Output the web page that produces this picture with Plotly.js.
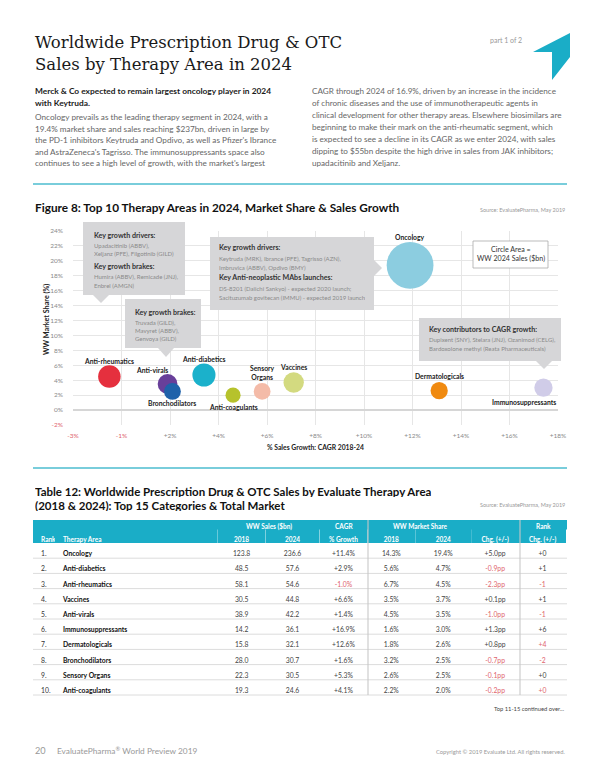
<!DOCTYPE html>
<html><head><meta charset="utf-8">
<script src="https://cdn.plot.ly/plotly-3.0.1.min.js"></script>
<style>html,body{margin:0;padding:0;background:#fff;}#chart{width:600px;height:776px;}</style>
</head><body><div id="chart"></div>
<script>
// ---------------- DATA ----------------
const areas = ['Oncology','Anti-diabetics','Anti-rheumatics','Vaccines','Anti-virals','Immunosuppressants','Dermatologicals','Bronchodilators','Sensory Organs','Anti-coagulants'];
const sales2018 = [123.8,48.5,58.1,30.5,38.9,14.2,15.8,28.0,22.3,19.3];
const sales2024 = [236.6,57.6,54.6,44.8,42.2,36.1,32.1,30.7,30.5,24.6];
const cagr = [11.4,2.9,-1.0,6.6,1.4,16.9,12.6,1.6,5.3,4.1];
const share2018 = [14.3,5.6,6.7,3.5,4.5,1.6,1.8,3.2,2.6,2.2];
const share2024 = [19.4,4.7,4.5,3.7,3.5,3.0,2.6,2.5,2.5,2.0];
const shareChg = [5.0,-0.9,-2.3,0.1,-1.0,1.3,0.8,-0.7,-0.1,-0.2];
const rankChg = [0,1,-1,1,-1,6,4,-2,0,0];
const xTickText = ['-3%','-1%','+2%','+4%','+6%','+8%','+10%','+12%','+14%','+16%','+18%'];
const yTickVals = [24,22,20,18,16,14,12,10,8,6,4,2,0,-2];

// ---------------- STYLE ----------------
const bubbleColors = ['#8ccde0','#1bb1cb','#e5303e','#d3da80','#683f9a','#d0cce8','#f08a10','#1f62aa','#f4bba8','#b6c22c'];
const labelShift = [[0,28],[0,16],[0,16],[0,15],[-16,14],[-19,-14],[0,15],[0,-12],[0,19],[0,-12]];
const rankChgRed = [false,false,true,false,true,false,true,true,false,true];
const TEAL = '#1aadc7', RED = '#e0646e';
const SANS = 'Lato, "Open Sans", sans-serif';
const W = 600, H = 776;
const X = px => px / W, Y = py => 1 - py / H;

const sgn = (v, d) => (v < 0 ? '-' : '+') + Math.abs(v).toFixed(d);

// ---------------- BUBBLE CHART ----------------
const bubble = {
  type: 'scatter', mode: 'markers', x: cagr, y: share2024, xaxis: 'x', yaxis: 'y',
  text: areas, hoverinfo: 'text',
  marker: { size: sales2024, sizemode: 'area', sizeref: 0.216, color: bubbleColors, opacity: 1, line: { width: 0 } },
  cliponaxis: false, showlegend: false
};

// ---------------- TABLE ----------------
const fmt1 = a => a.map(v => v.toFixed(1));
const rankStr = areas.map((_, i) => (i + 1) + '.');
const cellVals = [
  rankStr, areas, fmt1(sales2018), fmt1(sales2024),
  cagr.map(v => sgn(v, 1) + '%'), share2018.map(v => v.toFixed(1) + '%'), share2024.map(v => v.toFixed(1) + '%'),
  shareChg.map(v => sgn(v, 1) + 'pp'), rankChg.map(v => sgn(v, 0))
];
const colColors = [
  areas.map(() => '#333'), areas.map(() => '#111'), areas.map(() => '#444'), areas.map(() => '#444'),
  cagr.map(v => v < 0 ? RED : '#444'), areas.map(() => '#444'), areas.map(() => '#444'),
  shareChg.map(v => v < 0 ? RED : '#444'), rankChgRed.map(r => r ? RED : '#444')
];
const colWidths = [22,163,48,54,48,48,56,48,47];
const tblLeft = 33, tblRight = 567, tblTop = 520, headerH = 23, rowH = 15.2;
const headCellH = 14; // lower header line sits in the bottom part of the teal band
const tblBottom = tblTop + headerH + rowH * areas.length;
const table = {
  type: 'table',
  domain: { x: [X(tblLeft), X(tblRight)], y: [Y(tblBottom + 2), Y(tblTop + headerH - headCellH)] },
  columnwidth: colWidths,
  header: {
    values: ['Rank','Therapy Area','2018','2024','% Growth','2018','2024','Chg. (+/-)','Chg. (+/-)'],
    align: ['left','left','center','center','center','center','center','center','center'],
    fill: { color: TEAL }, line: { color: TEAL, width: 0 }, height: headCellH,
    font: { family: SANS, size: 6.5, color: '#ffffff', weight: 'bold' }
  },
  cells: {
    values: cellVals,
    align: ['left','left','center','center','center','center','center','center','center'],
    fill: { color: '#ffffff' }, line: { color: 'rgba(0,0,0,0)', width: 0 }, height: rowH,
    font: { family: SANS, size: 6.8, color: colColors, weight: ['normal','bold','normal','normal','normal','normal','normal','normal','normal'] }
  }
};

// ---------------- ANNOTATIONS & SHAPES ----------------
const ann = [];
const shapes = [];
function t(x, y, text, o) {
  o = o || {};
  const a = { xref: 'paper', yref: 'paper', x: X(x), y: Y(y), text: text, showarrow: false,
    xanchor: o.xa || 'left', yanchor: o.ya || 'middle', align: o.align || 'left', textangle: o.angle || 0,
    font: { family: o.family || SANS, size: o.size || 8.5, color: o.color || '#555' } };
  if (o.h) a.height = o.h;
  ann.push(a);
}
// header title
t(33, 42, 'Worldwide Prescription Drug &amp; OTC', { family: '"DejaVu Serif", serif', size: 16.5, color: '#1a1a1a' });
t(33, 64, 'Sales by Therapy Area in 2024', { family: '"DejaVu Serif", serif', size: 16.5, color: '#1a1a1a' });
t(488, 40, 'part 1 of 2', { size: 7, color: '#999' });
shapes.push({ type: 'path', xref: 'paper', yref: 'paper', fillcolor: TEAL, line: { width: 0 },
  path: `M${X(533)},${Y(52)} L${X(570)},${Y(33)} L${X(570)},${Y(57)} L${X(552)},${Y(80)} L${X(552)},${Y(52)} Z` });

// intro paragraphs
const leftBold = ['Merck &amp; Co expected to remain largest oncology player in 2024', 'with Keytruda.'];
const leftBody = ['Oncology prevails as the leading therapy segment in 2024, with a',
  '19.4% market share and sales reaching $237bn, driven in large by',
  'the PD-1 inhibitors Keytruda and Opdivo, as well as Pfizer\'s Ibrance',
  'and AstraZeneca\'s Tagrisso. The immunosuppressants space also',
  'continues to see a high level of growth, with the market\'s largest'];
const rightBody = ['CAGR through 2024 of 16.9%, driven by an increase in the incidence',
  'of chronic diseases and the use of immunotherapeutic agents in',
  'clinical development for other therapy areas. Elsewhere biosimilars are',
  'beginning to make their mark on the anti-rheumatic segment, which',
  'is expected to see a decline in its CAGR as we enter 2024, with sales',
  'dipping to $55bn despite the high drive in sales from JAK inhibitors;',
  'upadacitinib and Xeljanz.'];
leftBold.forEach((s, i) => t(33, 91 + i * 12.5, '<b>' + s + '</b>', { color: '#1a1a1a', size: 8.4 }));
leftBody.forEach((s, i) => t(33, 117 + i * 11.6, s, { color: '#666', size: 8.2 }));
rightBody.forEach((s, i) => t(310, 91 + i * 12, s, { color: '#666', size: 8.15 }));

// rules
[184, 468].forEach(yy => shapes.push({ type: 'line', xref: 'paper', yref: 'paper', x0: X(33), x1: X(567), y0: Y(yy), y1: Y(yy), line: { color: '#4cbdcf', width: 1.6 } }));

// figure title + source
t(33, 208, '<b>Figure 8: Top 10 Therapy Areas in 2024, Market Share &amp; Sales Growth</b>', { size: 11.8, color: '#111' });
t(567, 210, 'Source: EvaluatePharma, May 2019', { xa: 'right', size: 5.5, color: '#999' });

// axis titles
t(316, 447, '<b>% Sales Growth: CAGR 2018-24</b>', { xa: 'center', size: 6.8, color: '#222' });
t(46, 320, '<b>WW Market Share (%)</b>', { xa: 'center', size: 7.2, color: '#222', angle: -90 });

// callout boxes
const BOX = '#d6d6d8';
function box(x0, y0, x1, y1, tri) {
  shapes.push({ type: 'rect', xref: 'paper', yref: 'paper', x0: X(x0), x1: X(x1), y0: Y(y1), y1: Y(y0), fillcolor: BOX, line: { width: 0 }, layer: 'above' });
  shapes.push({ type: 'path', xref: 'paper', yref: 'paper', fillcolor: BOX, line: { width: 0 }, layer: 'above',
    path: `M${X(tri[0][0])},${Y(tri[0][1])} L${X(tri[1][0])},${Y(tri[1][1])} L${X(tri[2][0])},${Y(tri[2][1])} Z` });
}
box(83, 222, 185, 295, [[93, 295], [101, 303], [109, 295]]);
box(125, 299, 201, 348, [[158, 348], [166, 357], [174, 348]]);
box(210, 237, 374, 310, [[374, 260], [382, 268], [374, 276]]);
box(419, 318, 561, 361, [[536, 361], [544, 369], [552, 361]]);
function boxText(x, lines) {
  lines.forEach(l => t(x, l[1], l[2] ? '<b>' + l[0] + '</b>' : l[0], { size: l[2] ? 7.1 : 6.0, color: l[2] ? '#333' : '#8a8a8a', h: l[2] ? 9 : 8 }));
}
boxText(92, [['Key growth drivers:', 235, 1], ['Upadacitinib (ABBV),', 244.5], ['Xeljanz (PFE), Filgotinib (GILD)', 253],
  ['Key growth brakes:', 266, 1], ['Humira (ABBV), Remicade (JNJ),', 276], ['Enbrel (AMGN)', 284.5]]);
boxText(133, [['Key growth brakes:', 312, 1], ['Truvada (GILD),', 321.5], ['Mavyret (ABBV),', 329.5], ['Genvoya (GILD)', 337.5]]);
boxText(217, [['Key growth drivers:', 248, 1], ['Keytruda (MRK), Ibrance (PFE), Tagrisso (AZN),', 258], ['Imbruvica (ABBV), Opdivo (BMY)', 266.5],
  ['Key Anti-neoplastic MAbs launches:', 277.5, 1], ['DS-8201 (Daiichi Sankyo) - expected 2020 launch;', 288], ['Sacituzumab govitecan (IMMU) - expected 2019 launch', 296.5]]);
boxText(427, [['Key contributors to CAGR growth:', 329, 1], ['Dupixent (SNY), Stelara (JNJ), Ozanimod (CELG),', 339], ['Bardoxolone methyl (Reata Pharmaceuticals)', 347.5]]);

// size legend box
shapes.push({ type: 'rect', xref: 'paper', yref: 'paper', x0: X(473), x1: X(548), y0: Y(268), y1: Y(241), fillcolor: '#fff', line: { color: '#aaa', width: 0.8 } });
t(510.5, 249.5, 'Circle Area =', { xa: 'center', size: 7.1, color: '#333' });
t(510.5, 258.5, 'WW 2024 Sales ($bn)', { xa: 'center', size: 7.1, color: '#333' });

// bubble labels
areas.forEach((a, i) => ann.push({ xref: 'x', yref: 'y', x: cagr[i], y: share2024[i], showarrow: false,
  text: '<b>' + a.replace('Sensory ', 'Sensory<br>') + '</b>', xanchor: 'center', yanchor: 'middle',
  xshift: labelShift[i][0], yshift: labelShift[i][1], font: { family: SANS, size: 6.8, color: '#222' } }));

// table title + source
t(33, 490.5, '<b>Table 12: Worldwide Prescription Drug &amp; OTC Sales by Evaluate Therapy Area</b>', { size: 11.5, color: '#111', h: 12 });
t(33, 504.5, '<b>(2018 &amp; 2024): Top 15 Categories &amp; Total Market</b>', { size: 11.5, color: '#111', h: 12 });
t(567, 505, 'Source: EvaluatePharma, May 2019', { xa: 'right', size: 5.5, color: '#999' });

// teal band above the table's header row
shapes.push({ type: 'rect', xref: 'paper', yref: 'paper', x0: X(tblLeft), x1: X(tblRight), y0: Y(tblTop + headerH - headCellH + 0.5), y1: Y(tblTop), fillcolor: TEAL, line: { width: 0 } });
// table group headers (computed from column widths)
const colEdges = [tblLeft]; colWidths.forEach(w => colEdges.push(colEdges[colEdges.length - 1] + w));
const grp = [['WW Sales ($bn)', 2, 3], ['CAGR', 4, 4], ['WW Market Share', 5, 6], ['Rank', 8, 8]];
grp.forEach(g => t((colEdges[g[1]] + colEdges[g[2] + 1]) / 2, tblTop + 6.5, '<b>' + g[0] + '</b>', { xa: 'center', size: 6.5, color: '#fff' }));
// row separators & column separators
for (let k = 1; k <= areas.length; k++) {
  const yy = tblTop + headerH + k * rowH;
  shapes.push({ type: 'line', xref: 'paper', yref: 'paper', x0: X(tblLeft), x1: X(tblRight), y0: Y(yy), y1: Y(yy), line: { color: '#dcdcdc', width: 1 }, layer: 'above' });
}
[5, 8].forEach(c => shapes.push({ type: 'line', xref: 'paper', yref: 'paper', x0: X(colEdges[c]), x1: X(colEdges[c]), y0: Y(tblTop), y1: Y(tblBottom), line: { color: 'rgba(200,200,200,0.9)', width: 1.2 }, layer: 'above' }));

t(567, 708, 'Top 11-15 continued over...', { xa: 'right', size: 5.8, color: '#444' });

// footer
t(33, 750, '20', { size: 9.2, color: '#999' });
t(55, 750, 'EvaluatePharma<sup>®</sup> World Preview 2019', { size: 8.3, color: '#999' });
t(567, 751, 'Copyright © 2019 Evaluate Ltd. All rights reserved.', { xa: 'right', size: 5.8, color: '#999' });

// ---------------- LAYOUT ----------------
const layout = {
  width: W, height: H, margin: { l: 0, r: 0, t: 0, b: 0 }, paper_bgcolor: '#fff', plot_bgcolor: '#fff',
  showlegend: false,
  xaxis: { domain: [X(73), X(558)], range: [-2.5, 17.5], tickvals: xTickText.map((_, i) => -2.5 + 2 * i),
    ticktext: xTickText.map(s => s.startsWith('-') ? '<span style="color:' + RED + '">' + s + '</span>' : s),
    showgrid: true, gridcolor: '#e6e6e6', gridwidth: 1, zeroline: false, showline: false, ticks: '',
    ticklabelstandoff: 5, tickfont: { family: SANS, size: 6.5, color: '#8a8a8a' }, fixedrange: true },
  yaxis: { domain: [Y(425), Y(231)], range: [-2, 24], tickvals: yTickVals,
    ticktext: yTickVals.map(v => v < 0 ? '<span style="color:' + RED + '">' + v + '%</span>' : v + '%'),
    showgrid: true, gridcolor: '#e6e6e6', gridwidth: 1, zeroline: true, zerolinecolor: '#d6d6d6', zerolinewidth: 1.2,
    showline: false, ticks: '', ticklabelstandoff: 9, tickfont: { family: SANS, size: 6.5, color: '#8a8a8a' }, fixedrange: true },
  annotations: ann, shapes: shapes
};
Plotly.newPlot('chart', [bubble, table], layout, { staticPlot: true, displayModeBar: false });
</script></body></html>
